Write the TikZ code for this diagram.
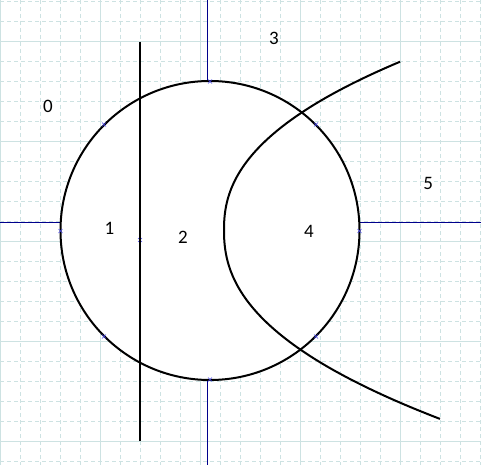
\documentclass[tikz,border=0pt]{standalone}
\usepackage{fontspec}
\setmainfont{Carlito}
\definecolor{gridc}{RGB}{205,226,226}
\definecolor{axisblue}{RGB}{0,0,140}
\definecolor{markblue}{RGB}{70,70,235}
\begin{document}
\begin{tikzpicture}[x=1pt,y=-1pt,
  minorgrid/.style={gridc, line width=0.9pt, dash pattern=on 4pt off 3pt},
  majorgrid/.style={gridc, line width=1pt},
  axisline/.style={axisblue, line width=1pt},
  thick curve/.style={black, line width=2pt},
  marker/.style={markblue, line width=0.6pt},
  lab/.style={inner sep=0pt, font=\fontsize{19}{19}\selectfont}]
\useasboundingbox (0,0) rectangle (481,465);
\fill[white] (0,0) rectangle (481,465);
% grid
\foreach \x in {0,20,...,480} \draw[minorgrid] (\x,0) -- (\x,465);
\foreach \y in {1.7,21.7,...,461.7} \draw[minorgrid] (0,\y) -- (481,\y);
\foreach \x in {0,100,...,400} \draw[majorgrid] (\x,0) -- (\x,465);
\foreach \y in {41.7,141.7,...,441.7} \draw[majorgrid] (0,\y) -- (481,\y);
% axis lines
\draw[axisline] (0,222.3) -- (60.5,222.3);
\draw[axisline] (359.5,222.3) -- (481,222.3);
\draw[axisline] (207.3,0) -- (207.3,81);
\draw[axisline] (207.3,380) -- (207.3,465);
% circle
\draw[thick curve, fill=white] (210,230.5) circle[radius=149.5];
% markers
\foreach \px/\py in {60.5/231,359.5/231,210/81.5,210/379.5,104/124.5,316/124.5,104/336.5,316/336.5,140/240}
  \draw[marker] (\px-2,\py-2) -- (\px+2,\py+2) (\px-2,\py+2) -- (\px+2,\py-2);
% vertical line
\draw[thick curve] (140,41.7) -- (140,440.7);
% hyperbola-like curve
\draw[thick curve, line join=round]
  plot[domain=168.3:0.01, samples=80] ({224+pow(\x/17.3,2.273)},{230-\x})
  -- plot[domain=0.01:188.9, samples=80] ({224+pow(\x/17.75,2.273)},{230+\x});
% labels
\node[lab] (l0) at (48,106.5) {0};
\node[lab] (l1) at (109.5,228.3) {1};
\node[lab] (l2) at (183,237.7) {2};
\node[lab] (l3) at (274,38.3) {3};
\node[lab] (l4) at (309,231.7) {4};
\node[lab] (l5) at (428.3,183.3) {5};
\end{tikzpicture}
\end{document}
